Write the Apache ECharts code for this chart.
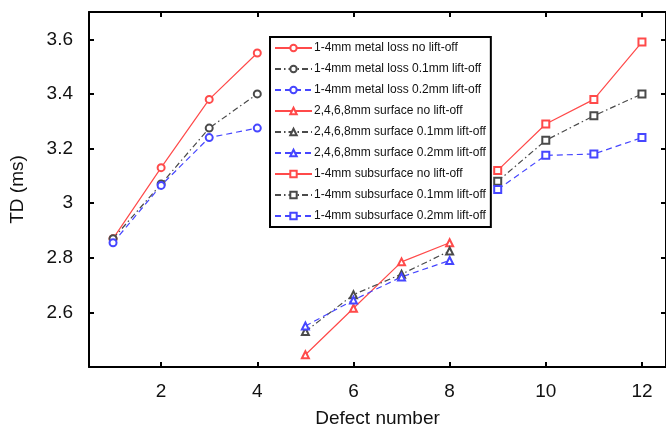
<!DOCTYPE html>
<html>
<head>
<meta charset="utf-8">
<script src="https://cdn.jsdelivr.net/npm/echarts@6/dist/echarts.min.js"></script>
<style>
  html, body { margin: 0; padding: 0; background: #fff; }
  #chart { width: 666px; height: 433px; }
</style>
</head>
<body>
<div id="chart"></div>
<script>
// defect numbers per group
var metalX = [1, 2, 3, 4];
var surfX = [5, 6, 7, 8];
var subX = [9, 10, 11, 12];

// TD values (ms)
var metalNo  = [2.87, 3.13, 3.38, 3.55];
var metal01  = [2.87, 3.07, 3.275, 3.40];
var metal02  = [2.855, 3.065, 3.24, 3.275];
var surfNo   = [2.445, 2.615, 2.785, 2.855];
var surf01   = [2.53, 2.665, 2.74, 2.825];
var surf02   = [2.55, 2.645, 2.73, 2.79];
var subNo    = [3.12, 3.29, 3.38, 3.59];
var sub01    = [3.08, 3.23, 3.32, 3.40];
var sub02    = [3.05, 3.175, 3.18, 3.24];

var xTicks = [2, 4, 6, 8, 10, 12];
var yTicks = [2.6, 2.8, 3.0, 3.2, 3.4, 3.6];

var names = [
  '1-4mm metal loss no lift-off',
  '1-4mm metal loss 0.1mm lift-off',
  '1-4mm metal loss 0.2mm lift-off',
  '2,4,6,8mm surface no lift-off',
  '2,4,6,8mm surface 0.1mm lift-off',
  '2,4,6,8mm surface 0.2mm lift-off',
  '1-4mm subsurface no lift-off',
  '1-4mm subsurface 0.1mm lift-off',
  '1-4mm subsurface 0.2mm lift-off'
];

var red = '#ff4a4a', gray = '#4a4a4a', blue = '#4646ff';
var font = 'Liberation Sans, Arial, sans-serif';

function pairs(xs, ys) {
  return xs.map(function (x, i) { return [x, ys[i]]; });
}

// one series per legend entry
function mk(name, xs, ys, color, dash, symbol) {
  return {
    name: name,
    type: 'line',
    data: pairs(xs, ys),
    symbol: symbol,
    symbolSize: 7,
    color: color,
    itemStyle: { color: color, borderColor: color, borderWidth: 1 },
    lineStyle: { color: color, width: 1.2, type: dash },
    emphasis: { disabled: true }
  };
}

var solid = 'solid', dashdot = [6, 3, 1.5, 3], dashed = [6, 4];

var myChart = echarts.init(document.getElementById('chart'));
var option = {
  animation: false,
  backgroundColor: '#fff',
  textStyle: { fontFamily: font },
  grid: { left: 88, top: 12, width: 580, height: 355 },
  legend: {
    orient: 'vertical',
    left: 270,
    top: 37,
    padding: [5, 5, 5, 4],
    itemWidth: 37,
    itemHeight: 8,
    itemGap: 9,
    borderColor: '#000',
    borderWidth: 2,
    backgroundColor: '#fff',
    textStyle: { fontFamily: font, fontSize: 12, color: '#111', padding: [0, 0, 0, -3] },
    data: names
  },
  xAxis: [
    {
      type: 'value', min: 0.5, max: 12.5,
      name: 'Defect number', nameLocation: 'middle', nameGap: 42,
      nameTextStyle: { fontFamily: font, fontSize: 19, color: '#111' },
      axisLine: { lineStyle: { color: '#000', width: 2 } },
      axisTick: { inside: true, length: 5, lineStyle: { width: 2, color: '#000' }, customValues: xTicks },
      axisLabel: { fontFamily: font, fontSize: 19, color: '#111', margin: 15, customValues: xTicks },
      splitLine: { show: false }
    },
    {
      type: 'value', min: 0.5, max: 12.5, position: 'top',
      axisLine: { lineStyle: { color: '#000', width: 2 } },
      axisTick: { inside: true, length: 5, lineStyle: { width: 2, color: '#000' }, customValues: xTicks },
      axisLabel: { show: false },
      splitLine: { show: false }
    }
  ],
  yAxis: [
    {
      type: 'value', min: 2.4, max: 3.7,
      name: 'TD (ms)', nameLocation: 'middle', nameGap: 62,
      nameTextStyle: { fontFamily: font, fontSize: 19, color: '#111' },
      axisLine: { show: true, lineStyle: { color: '#000', width: 2 } },
      axisTick: { show: true, inside: true, length: 5, lineStyle: { width: 2, color: '#000' }, customValues: yTicks },
      axisLabel: { fontFamily: font, fontSize: 19, color: '#111', margin: 16, customValues: yTicks },
      splitLine: { show: false }
    },
    {
      type: 'value', min: 2.4, max: 3.7, position: 'right',
      axisLine: { show: true, lineStyle: { color: '#000', width: 2 } },
      axisTick: { show: true, inside: true, length: 5, lineStyle: { width: 2, color: '#000' }, customValues: yTicks },
      axisLabel: { show: false },
      splitLine: { show: false }
    }
  ],
  series: [
    mk(names[0], metalX, metalNo, red, solid, 'emptyCircle'),
    mk(names[1], metalX, metal01, gray, dashdot, 'emptyCircle'),
    mk(names[2], metalX, metal02, blue, dashed, 'emptyCircle'),
    mk(names[3], surfX, surfNo, red, solid, 'emptyTriangle'),
    mk(names[4], surfX, surf01, gray, dashdot, 'emptyTriangle'),
    mk(names[5], surfX, surf02, blue, dashed, 'emptyTriangle'),
    mk(names[6], subX, subNo, red, solid, 'emptyRect'),
    mk(names[7], subX, sub01, gray, dashdot, 'emptyRect'),
    mk(names[8], subX, sub02, blue, dashed, 'emptyRect')
  ]
};
myChart.setOption(option);
</script>
</body>
</html>
